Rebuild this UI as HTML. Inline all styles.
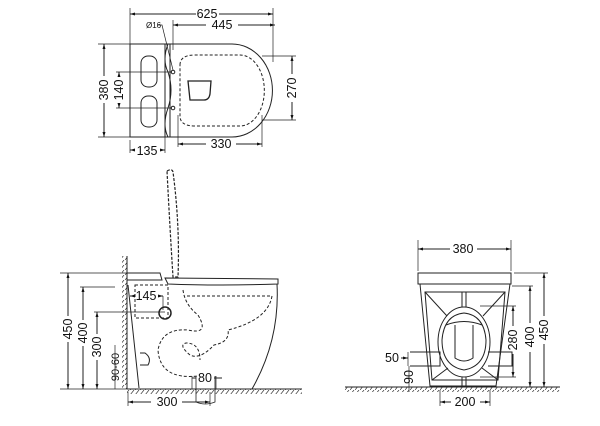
<!DOCTYPE html>
<html><head><style>
html,body{margin:0;padding:0;background:#fff;}
svg{display:block;}
text{font-family:"Liberation Sans",sans-serif;fill:#111;}
</style></head><body>
<svg width="600" height="426" viewBox="0 0 600 426" xmlns="http://www.w3.org/2000/svg">
<defs>
<pattern id="h" width="5" height="5" patternUnits="userSpaceOnUse"><path d="M0 5 L4 0" stroke="#333" stroke-width="0.7"/></pattern>
<marker id="a" viewBox="0 0 10 10" refX="10" refY="5" markerWidth="5" markerHeight="5" orient="auto-start-reverse"><path d="M0 2 L10 5 L0 8z" fill="#111"/></marker>
</defs>
<g stroke="#222" stroke-width="1" fill="none">
<!-- TOP VIEW -->
<rect x="130" y="44" width="40" height="93"/>
<line x1="165" y1="44" x2="165" y2="137"/>
<path d="M170 44 H232 A40 46 0 0 1 232 137 H170"/>
<path d="M168 44 Q162 60 168 72 Q174 90 168 108 Q162 125 168 137" />
<rect x="141" y="56" width="16" height="31" rx="7"/>
<rect x="141" y="96" width="16" height="31" rx="7"/>
<path d="M180 65 Q180 55 195 55 H240 A24 35 0 0 1 240 126 H195 Q180 126 180 116 Z" stroke-dasharray="3,2"/>
<path d="M188 81 H211 L210 94 Q209 100 204 100 H190 Z" stroke-width="1.3"/>
<circle cx="173" cy="72" r="1.8"/><circle cx="173" cy="108" r="1.8"/>
<line x1="130" y1="8" x2="130" y2="44" stroke-width="0.7"/><line x1="273" y1="8" x2="273" y2="62" stroke-width="0.7"/>
<line x1="130" y1="14" x2="196" y2="14" marker-start="url(#a)"/><line x1="219" y1="14" x2="273" y2="14" marker-end="url(#a)"/>
<line x1="173" y1="20" x2="173" y2="50" stroke-width="0.7"/>
<line x1="173" y1="25" x2="206" y2="25" marker-start="url(#a)"/><line x1="238" y1="25" x2="275" y2="25" marker-end="url(#a)"/>
<path d="M158 25 H162 L173 70" stroke-width="0.7"/>
<line x1="98" y1="44" x2="130" y2="44" stroke-width="0.7"/><line x1="98" y1="137" x2="130" y2="137" stroke-width="0.7"/>
<line x1="104" y1="44" x2="104" y2="76" marker-start="url(#a)"/><line x1="104" y1="103" x2="104" y2="137" marker-end="url(#a)"/>
<line x1="116" y1="72" x2="172" y2="72" stroke-width="0.7"/><line x1="116" y1="108" x2="172" y2="108" stroke-width="0.7"/>
<line x1="119" y1="72" x2="119" y2="77" marker-start="url(#a)"/><line x1="119" y1="103" x2="119" y2="108" marker-end="url(#a)"/>
<line x1="262" y1="56" x2="296" y2="56" stroke-width="0.7"/><line x1="262" y1="120" x2="296" y2="120" stroke-width="0.7"/>
<line x1="292" y1="56" x2="292" y2="74" marker-start="url(#a)"/><line x1="292" y1="102" x2="292" y2="120" marker-end="url(#a)"/>
<line x1="178" y1="115" x2="178" y2="147" stroke-width="0.7"/><line x1="262" y1="115" x2="262" y2="147" stroke-width="0.7"/>
<line x1="178" y1="144" x2="206" y2="144" marker-start="url(#a)"/><line x1="236" y1="144" x2="262" y2="144" marker-end="url(#a)"/>
<line x1="130" y1="140" x2="130" y2="153" stroke-width="0.7"/><line x1="165" y1="137" x2="165" y2="153" stroke-width="0.7"/>
<line x1="130" y1="150" x2="135" y2="150" marker-start="url(#a)"/><line x1="160" y1="150" x2="165" y2="150" marker-end="url(#a)"/>
<!-- SIDE VIEW -->
<rect x="122" y="256" width="5" height="133" fill="url(#h)" stroke="none"/>
<line x1="127" y1="256" x2="127" y2="389"/>
<rect x="127" y="389" width="175" height="5" fill="url(#h)" stroke="none"/>
<line x1="127" y1="389" x2="302" y2="389"/>
<path d="M167 171 Q172 168 173 172 Q180 225 178 277 L173 277 Q170 230 167 171Z" stroke-dasharray="3,1.5" stroke-width="1.2"/>
<path d="M127 273 H160 L162 280 H127"/>
<path d="M165 278 L278 279 L278 284 Q220 286 168 284 Z"/>
<path d="M128 285 L139 388"/>
<path d="M277 284 Q280 340 252 389"/>
<rect x="135" y="285" width="33" height="33" stroke-dasharray="3,2"/>
<circle cx="165" cy="313" r="6" stroke-width="1.5"/>
<path d="M183 290 Q185 305 198 315 Q210 335 188 330 Q162 328 158 350 Q160 380 198 376" stroke-dasharray="3,2"/>
<path d="M187 296 H272 Q268 320 228 330 Q230 342 214 345 Q200 360 190 355 Q178 345 186 343 Q200 343 200 360" stroke-dasharray="3,2"/>
<path d="M140 353 H145 Q152 358 148 365 H140" />
<path d="M196 376 V402 Q205 406 215 402 V376" stroke-width="0.8"/>
<line x1="60" y1="273" x2="135" y2="273" stroke-width="0.7"/><line x1="60" y1="389" x2="127" y2="389" stroke-width="0.7"/>
<line x1="68" y1="273" x2="68" y2="316" marker-start="url(#a)"/><line x1="68" y1="342" x2="68" y2="389" marker-end="url(#a)"/>
<line x1="80" y1="287" x2="115" y2="287" stroke-width="0.7"/>
<line x1="83" y1="287" x2="83" y2="320" marker-start="url(#a)"/><line x1="83" y1="346" x2="83" y2="389" marker-end="url(#a)"/>
<line x1="94" y1="312" x2="165" y2="312" stroke-width="0.7"/>
<line x1="97" y1="312" x2="97" y2="334" marker-start="url(#a)"/><line x1="97" y1="360" x2="97" y2="389" marker-end="url(#a)"/>
<line x1="115" y1="345" x2="115" y2="389" stroke-width="0.7"/>
<line x1="130" y1="296" x2="134" y2="296" marker-start="url(#a)"/><line x1="158" y1="296" x2="163" y2="296" marker-end="url(#a)"/>
<line x1="163" y1="296" x2="163" y2="310" stroke-width="0.7"/>
<line x1="192" y1="376" x2="192" y2="389" stroke-width="0.7"/><line x1="216" y1="376" x2="216" y2="389" stroke-width="0.7"/>
<line x1="192" y1="378" x2="196" y2="378" /><line x1="214" y1="378" x2="222" y2="378"/>
<line x1="128" y1="392" x2="128" y2="406" stroke-width="0.7"/><line x1="210" y1="392" x2="210" y2="406" stroke-width="0.7"/>
<line x1="128" y1="402" x2="151" y2="402" marker-start="url(#a)"/><line x1="182" y1="402" x2="210" y2="402" marker-end="url(#a)"/>
<!-- FRONT VIEW -->
<rect x="345" y="387" width="215" height="5" fill="url(#h)" stroke="none"/>
<line x1="345" y1="387" x2="560" y2="387"/>
<rect x="418" y="273" width="93" height="11"/>
<path d="M420 284 L430 386 H496 L510 284"/>
<path d="M425 292 H505 L498 380 H432 Z"/>
<line x1="462" y1="292" x2="462" y2="307"/><line x1="466" y1="292" x2="466" y2="307"/>
<line x1="462" y1="377" x2="462" y2="386"/><line x1="466" y1="377" x2="466" y2="386"/>
<line x1="425" y1="292" x2="447" y2="316"/><line x1="505" y1="292" x2="483" y2="316"/>
<line x1="432" y1="380" x2="448" y2="368"/><line x1="498" y1="380" x2="482" y2="368"/>
<ellipse cx="464" cy="342" rx="26" ry="35"/>
<path d="M442 340 Q444 315 464 313 Q484 315 486 340 Q486 366 464 370 Q442 366 442 340Z"/>
<path d="M446 325 Q464 318 482 325"/>
<path d="M455 325 V358 Q464 364 473 358 V325"/>
<path d="M410 352 H440 V366 H410" /><path d="M488 352 H512 V366 H488"/>
<line x1="418" y1="240" x2="418" y2="271" stroke-width="0.7"/><line x1="511" y1="240" x2="511" y2="271" stroke-width="0.7"/>
<line x1="418" y1="249" x2="450" y2="249" marker-start="url(#a)"/><line x1="477" y1="249" x2="511" y2="249" marker-end="url(#a)"/>
<line x1="514" y1="273" x2="548" y2="273" stroke-width="0.7"/>
<line x1="544" y1="273" x2="544" y2="316" marker-start="url(#a)"/><line x1="544" y1="344" x2="544" y2="387" marker-end="url(#a)"/>
<line x1="512" y1="286" x2="533" y2="286" stroke-width="0.7"/>
<line x1="530" y1="286" x2="530" y2="323" marker-start="url(#a)"/><line x1="530" y1="352" x2="530" y2="387" marker-end="url(#a)"/>
<line x1="480" y1="306" x2="516" y2="306" stroke-width="0.7"/><line x1="480" y1="377" x2="516" y2="377" stroke-width="0.7"/>
<line x1="513" y1="306" x2="513" y2="326" marker-start="url(#a)"/><line x1="513" y1="354" x2="513" y2="377" marker-end="url(#a)"/>
<line x1="440" y1="390" x2="440" y2="406" stroke-width="0.7"/><line x1="490" y1="390" x2="490" y2="406" stroke-width="0.7"/>
<line x1="440" y1="402" x2="451" y2="402" marker-start="url(#a)"/><line x1="480" y1="402" x2="490" y2="402" marker-end="url(#a)"/>
<line x1="408" y1="352" x2="408" y2="366" stroke-width="0.7"/>
<line x1="401" y1="358" x2="408" y2="358" marker-end="url(#a)"/>
<line x1="409" y1="366" x2="409" y2="392" stroke-width="0.7"/>
</g>
<g font-size="12.5">
<text x="207" y="18" text-anchor="middle">625</text>
<text x="222" y="29" text-anchor="middle">445</text>
<text x="146" y="28" font-size="8">Ø16</text>
<text x="221" y="148" text-anchor="middle">330</text>
<text x="147" y="155" text-anchor="middle">135</text>
<text transform="translate(108,90) rotate(-90)" text-anchor="middle">380</text>
<text transform="translate(123,90) rotate(-90)" text-anchor="middle">140</text>
<text transform="translate(296,88) rotate(-90)" text-anchor="middle">270</text>
<text x="146" y="300" text-anchor="middle">145</text>
<text x="205" y="382" text-anchor="middle">80</text>
<text x="167" y="406" text-anchor="middle">300</text>
<text transform="translate(72,329) rotate(-90)" text-anchor="middle">450</text>
<text transform="translate(87,333) rotate(-90)" text-anchor="middle">400</text>
<text transform="translate(101,347) rotate(-90)" text-anchor="middle">300</text>
<text transform="translate(119,367) rotate(-90)" text-anchor="middle" font-size="11">90-60</text>
<text x="463" y="253" text-anchor="middle">380</text>
<text x="465" y="406" text-anchor="middle">200</text>
<text x="392" y="362" text-anchor="middle">50</text>
<text transform="translate(413,377) rotate(-90)" text-anchor="middle">90</text>
<text transform="translate(517,340) rotate(-90)" text-anchor="middle">280</text>
<text transform="translate(534,337) rotate(-90)" text-anchor="middle">400</text>
<text transform="translate(548,330) rotate(-90)" text-anchor="middle">450</text>
</g>
</svg>
</body></html>
